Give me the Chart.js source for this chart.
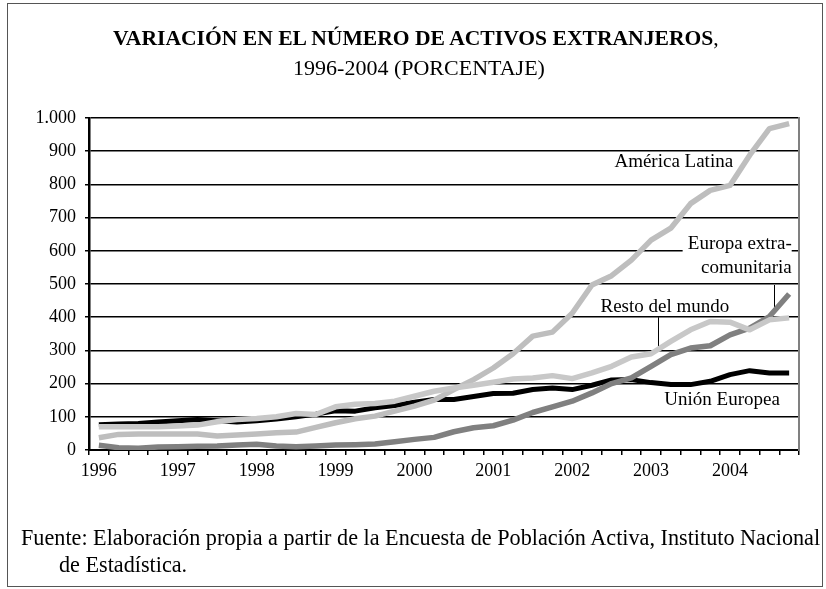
<!DOCTYPE html>
<html>
<head>
<meta charset="utf-8">
<script src="https://cdn.jsdelivr.net/npm/chart.js@4.4.1/dist/chart.umd.min.js"></script>
<style>
  html, body { margin: 0; padding: 0; background: #fff; }
  body { width: 826px; height: 589px; position: relative; overflow: hidden; font-family: "Liberation Serif", "Times New Roman", serif; color: #000; }
  #frame { position: absolute; left: 7px; top: 3px; width: 814px; height: 582px; border: 1.5px solid #555; }
  #chart { position: absolute; left: 0; top: 0; }
  .title { position: absolute; white-space: nowrap; }
  #t1 { left: 113px; top: 26px; font-size: 21.6px; line-height: 24px; font-weight: bold; }
  #t1 span { font-weight: normal; }
  #t2 { left: 0; width: 838px; text-align: center; top: 56px; font-size: 22px; line-height: 24px; }
  #source { position: absolute; left: 21px; top: 524px; font-size: 22.2px; line-height: 27px; white-space: nowrap; }
  #source .cont { padding-left: 38px; }
</style>
</head>
<body>
<div id="frame"></div>
<canvas id="chart" width="826" height="589"></canvas>
<div class="title" id="t1">VARIACIÓN EN EL NÚMERO DE ACTIVOS EXTRANJEROS<span>,</span></div>
<div class="title" id="t2">1996-2004 (PORCENTAJE)</div>
<div id="source">Fuente: Elaboración propia a partir de la Encuesta de Población Activa, Instituto Nacional<br><span class="cont">de Estadística.</span></div>
<script>
// quarterly points, 1996 Q1 .. 2004 Q4
const tickLabels = [
  "1996", "", "", "", "1997", "", "", "", "1998", "", "", "",
  "1999", "", "", "", "2000", "", "", "", "2001", "", "", "",
  "2002", "", "", "", "2003", "", "", "", "2004", "", "", ""
];

const unionEuropea = [76, 78, 80, 84, 88, 92, 88, 84, 88, 93, 100, 108, 118, 117, 127, 134, 144, 152,
  152, 161, 170, 171, 182, 187, 182, 195, 211, 212, 203, 197, 197, 207, 227, 239, 232, 232];
const europaExtra = [14, 7, 5, 9, 10, 11, 12, 15, 17, 12, 10, 12, 15, 16, 18, 25, 32, 38,
  55, 67, 73, 90, 113, 130, 147, 172, 200, 217, 252, 287, 307, 314, 347, 367, 402, 470];
const americaLatina = [37, 47, 48, 48, 48, 48, 42, 45, 48, 52, 54, 68, 82, 94, 102, 117, 132, 150,
  182, 212, 247, 290, 343, 355, 412, 497, 525, 572, 632, 668, 742, 782, 797, 888, 968, 983];
const restoMundo = [70, 70, 70, 70, 72, 75, 85, 92, 95, 100, 110, 107, 130, 138, 140, 147, 162, 177,
  187, 195, 204, 214, 217, 224, 215, 232, 252, 280, 290, 327, 362, 387, 385, 362, 392, 398];

const yTicks = [0, 100, 200, 300, 400, 500, 600, 700, 800, 900, 1000];

// in-chart labels, placed in data units (category index, value)
const noteLabels = [
  { text: "América Latina", i: 29.15, v: 867, align: "center" },
  { text: "Europa extra-", i: 35.13, v: 620, align: "right" },
  { text: "comunitaria", i: 35.13, v: 548, align: "right" },
  { text: "Resto del mundo", i: 28.7, v: 432, align: "center" },
  { text: "Unión Europea", i: 31.6, v: 152, align: "center" }
];
const leaderLines = [
  { i: 28.37, from: 400, to: 301 },
  { i: 34.22, from: 497, to: 428 }
];
const labelMask = { i0: 29.6, i1: 35.13, v0: 657, v1: 512 };

function fmtThousands(v) {
  return String(v).replace(/\B(?=(\d{3})+(?!\d))/g, ".");
}

const notesPlugin = {
  id: "notes",
  beforeDatasetsDraw(chart) {
    const ctx = chart.ctx;
    const xs = chart.scales.x;
    const ys = chart.scales.y;
    ctx.save();
    // white box behind the "Europa extra-comunitaria" label
    const bx0 = xs.getPixelForValue(labelMask.i0);
    const bx1 = xs.getPixelForValue(labelMask.i1);
    const by0 = ys.getPixelForValue(labelMask.v0);
    const by1 = ys.getPixelForValue(labelMask.v1);
    ctx.fillStyle = "#fff";
    ctx.fillRect(bx0, by0, bx1 - bx0, by1 - by0);

    ctx.strokeStyle = "#000";
    ctx.lineWidth = 1;
    leaderLines.forEach((l) => {
      const x = Math.round(xs.getPixelForValue(l.i)) + 0.5;
      ctx.beginPath();
      ctx.moveTo(x, ys.getPixelForValue(l.from));
      ctx.lineTo(x, ys.getPixelForValue(l.to));
      ctx.stroke();
    });

    ctx.fillStyle = "#000";
    ctx.font = '19px "Liberation Serif", serif';
    ctx.textBaseline = "middle";
    noteLabels.forEach((n) => {
      ctx.textAlign = n.align;
      ctx.fillText(n.text, xs.getPixelForValue(n.i), ys.getPixelForValue(n.v));
    });
    ctx.restore();
  }
};

function lineSet(label, data, color, width) {
  return {
    label: label,
    data: data,
    borderColor: color,
    backgroundColor: color,
    borderWidth: width,
    pointRadius: 0,
    tension: 0,
    fill: false,
    borderJoinStyle: "round",
    borderCapStyle: "butt"
  };
}

new Chart(document.getElementById("chart").getContext("2d"), {
  type: "line",
  data: {
    labels: tickLabels,
    datasets: [
      lineSet("Resto del mundo", restoMundo, "#c8c8c8", 5.5),
      lineSet("América Latina", americaLatina, "#bebebe", 5.5),
      lineSet("Europa extracomunitaria", europaExtra, "#808080", 5.5),
      lineSet("Unión Europea", unionEuropea, "#000000", 5)
    ]
  },
  options: {
    responsive: false,
    animation: false,
    layout: { padding: { top: 118, right: 27, bottom: 0, left: 0 } },
    plugins: {
      legend: { display: false },
      tooltip: { enabled: false },
      title: { display: false }
    },
    scales: {
      x: {
        type: "category",
        offset: true,
        afterFit(scale) { scale.height = 139; },
        grid: {
          offset: true,
          drawOnChartArea: false,
          drawTicks: true,
          tickLength: 5,
          color: "#000",
          lineWidth: 1.5
        },
        border: { display: true, color: "#000", width: 2 },
        ticks: {
          autoSkip: false,
          maxRotation: 0,
          minRotation: 0,
          padding: 5,
          color: "#000",
          font: { family: "Liberation Serif", size: 18 },
          callback(value, index) { return tickLabels[index]; }
        }
      },
      y: {
        min: 0,
        max: 1000,
        afterFit(scale) { scale.width = 89; },
        afterBuildTicks(scale) { scale.ticks = yTicks.map((v) => ({ value: v })); },
        grid: {
          color: "#000",
          lineWidth: 1.5,
          drawTicks: true,
          tickLength: 4
        },
        border: { display: true, color: "#000", width: 2.5 },
        ticks: {
          padding: 9,
          color: "#000",
          font: { family: "Liberation Serif", size: 18 },
          callback(value) { return fmtThousands(value); }
        }
      },
      y2: {
        position: "right",
        min: 0,
        max: 1000,
        afterFit(scale) { scale.width = 0; },
        grid: { display: false, drawTicks: false },
        border: { display: true, color: "#808080", width: 2 },
        ticks: { display: false }
      }
    }
  },
  plugins: [notesPlugin]
});
</script>
</body>
</html>
